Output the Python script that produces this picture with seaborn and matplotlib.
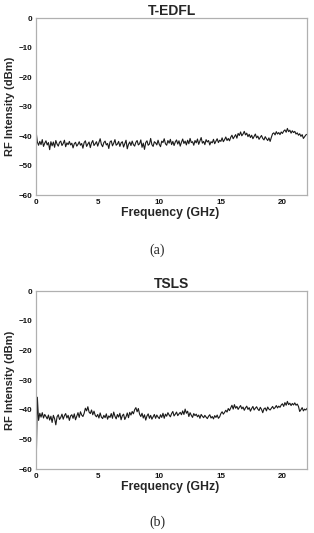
import numpy as np
import pandas as pd
import matplotlib
matplotlib.use("Agg")
import matplotlib.pyplot as plt
import seaborn as sns

# Frequenza (GHz), passo 0.1
freq = np.round(np.arange(0, 221) * 0.1, 1)

# T-EDFL (dBm) (a)
tedfl = [
    -38.5, -42.0, -43.1, -41.8, -42.9, -41.2, -43.5, -42.4, -41.6, -43.0,
    -42.2, -44.6, -41.9, -43.3, -42.0, -43.8, -41.5, -42.7, -43.4, -42.1,
    -41.7, -43.2, -42.5, -41.4, -43.6, -42.3, -42.9, -41.8, -43.0, -42.4,
    -44.0, -42.6, -42.1, -43.4, -42.8, -41.9, -43.1, -42.5, -44.1, -42.2,
    -41.6, -43.5, -42.7, -42.0, -43.9, -42.3, -41.5, -43.2, -42.6, -41.9,
    -43.4, -42.1, -40.9, -42.8, -43.6, -42.2, -41.7, -43.0, -42.5, -44.2,
    -42.0, -41.6, -43.3, -42.4, -41.2, -43.1, -42.7, -41.8, -43.5, -42.3,
    -41.9, -43.7, -42.6, -41.4, -44.3, -42.8, -42.0, -43.2, -41.7, -42.9,
    -43.4, -42.1, -41.5, -43.0, -42.6, -41.3, -43.8, -42.4, -44.5, -42.2,
    -41.6, -43.1, -42.7, -40.8, -42.9, -43.5, -41.9, -42.3, -43.0, -41.4,
    -42.8, -43.6, -41.7, -42.2, -40.9, -42.6, -43.1, -41.5, -42.4, -41.1,
    -42.9, -41.8, -43.2, -42.0, -41.3, -42.7, -41.6, -43.4, -42.1, -41.0,
    -42.5, -41.7, -43.0, -41.4, -42.6, -40.8, -42.2, -41.9, -43.1, -41.5,
    -42.3, -41.0, -42.8, -41.6, -40.5, -42.4, -41.8, -42.9, -41.2, -42.0,
    -41.5, -43.0, -41.9, -42.3, -41.1, -42.6, -41.7, -40.9, -42.2, -41.4,
    -41.8, -40.6, -41.9, -41.2, -40.3, -41.5, -40.8, -41.6, -40.4, -39.7,
    -40.9, -40.2, -39.5, -40.7, -39.1, -39.8, -38.6, -39.9, -39.3, -38.4,
    -39.6, -39.0, -40.2, -39.4, -40.5, -39.7, -40.9, -40.1, -39.3, -40.6,
    -40.0, -41.1, -40.4, -39.8, -40.8, -41.3, -40.2, -40.9, -41.5, -40.6,
    -41.8, -40.4, -39.2, -38.9, -39.6, -38.5, -39.3, -38.8, -39.5, -38.6,
    -39.1, -38.3, -37.9, -38.7, -37.4, -38.5, -38.0, -39.0, -38.2, -38.8,
    -38.4, -39.3, -38.9, -39.7, -39.2, -40.1, -39.5, -40.8, -40.2, -39.6,
    -39.4,
]

# TSLS (dBm) (b)
tsls = [
    -60.0, -35.8, -43.6, -41.2, -42.5, -41.0, -42.8, -41.6, -42.3, -43.1,
    -41.8, -43.5, -42.2, -44.3, -41.9, -43.0, -45.1, -42.4, -41.7, -43.3,
    -42.6, -41.5, -43.2, -42.0, -41.3, -42.8, -41.9, -43.6, -42.1, -41.7,
    -42.9, -41.4, -43.4, -42.2, -41.0, -42.6, -40.7, -41.8, -42.3, -41.2,
    -39.5, -40.4, -39.0, -40.8, -41.3, -40.1, -41.7, -40.5, -41.9, -42.4,
    -41.6, -42.8, -41.1, -42.5, -43.0, -41.9, -42.7, -41.4, -43.2, -42.1,
    -42.6, -41.3, -42.9, -40.8, -42.2, -43.1, -41.6, -42.5, -41.2, -43.4,
    -42.0, -41.5, -43.3, -42.4, -41.1, -42.7, -40.9, -41.8, -40.6, -41.4,
    -40.0, -39.3, -40.7, -39.6, -41.5, -42.3, -41.2, -42.8, -41.7, -43.5,
    -42.1, -41.4, -42.9, -41.9, -43.2, -42.4, -41.6, -42.9, -41.8, -42.5,
    -43.0, -41.7, -42.6, -41.2, -42.9, -41.5, -42.2, -41.0, -41.8, -42.4,
    -41.3, -40.6, -42.1, -41.5, -40.8, -42.0, -41.4, -40.9, -41.7, -40.4,
    -41.6, -39.8, -41.2, -40.5, -42.3, -41.0, -41.9, -42.6, -41.3, -42.0,
    -41.5, -42.4, -41.8, -42.9, -41.6, -42.2, -42.7, -41.9, -42.5, -43.0,
    -42.2, -41.7, -42.8, -42.3, -43.1, -42.0, -42.6, -41.8, -42.9, -42.4,
    -41.3, -40.7, -41.5, -40.9, -40.2, -40.8, -39.6, -40.3, -39.4, -38.5,
    -39.8, -38.3, -39.5, -38.9, -39.9, -39.2, -38.6, -39.7, -39.1, -40.2,
    -39.4, -38.8, -39.9, -39.3, -40.5, -39.6, -38.9, -40.1, -39.5, -39.0,
    -39.8, -40.3, -39.2, -39.9, -41.0, -39.7, -39.4, -40.4, -39.1, -39.8,
    -40.1, -39.5, -38.9, -39.7, -39.3, -38.6, -39.4, -38.8, -39.2, -38.4,
    -38.0, -38.9, -37.6, -38.5, -37.2, -38.3, -37.8, -38.6, -37.9, -38.4,
    -37.7, -38.5, -38.1, -38.9, -40.6, -40.0, -39.3, -40.4, -39.8, -40.1,
    -39.5,
]

titoli = ["T-EDFL", "TSLS"]
didascalie = ["(a)", "(b)"]
xticks = [0, 5, 10, 15, 20]
yticks = [0, -10, -20, -30, -40, -50, -60]

sns.set_style("white")
plt.rcParams['font.family'] = ['Liberation Sans', 'DejaVu Sans']

fig = plt.figure(figsize=(3.14, 5.33), dpi=100)

# posizioni degli assi (frazioni della figura)
posizioni = [[0.115, 0.634, 0.863, 0.332], [0.115, 0.120, 0.863, 0.334]]
caption_y = [1 - 250 / 533, 1 - 522 / 533]

for i, serie in enumerate([tedfl, tsls]):
    df = pd.DataFrame({'freq': freq, 'dbm': serie})
    ax = fig.add_axes(posizioni[i])
    sns.lineplot(data=df, x='freq', y='dbm', ax=ax, color='#1a1a1a', linewidth=0.8)
    ax.set_xlim(0, 22)
    ax.set_ylim(-60, 0)
    ax.set_xticks(xticks)
    ax.set_yticks(yticks)
    ax.tick_params(axis='both', labelsize=5.8, length=1.5, width=0.5, color='#aaaaaa',
                   pad=1.5, direction='out', labelcolor='#111111')
    for lab in ax.get_xticklabels() + ax.get_yticklabels():
        lab.set_fontweight('bold')
    for sp in ax.spines.values():
        sp.set_color('#b0b0b0')
        sp.set_linewidth(0.9)
    ax.set_title(titoli[i], fontsize=10, fontweight='bold', pad=2.5)
    ax.set_xlabel('Frequency (GHz)', fontsize=8.8, fontweight='bold')
    ax.xaxis.set_label_coords(0.495, -0.065)
    ax.set_ylabel('RF Intensity (dBm)', fontsize=8, fontweight='bold')
    ax.yaxis.set_label_coords(-0.078, 0.5)
    fig.text(0.5, caption_y[i], didascalie[i], ha='center', va='center',
             fontsize=10, family='Liberation Serif')

fig.savefig('out.png', dpi=100)
